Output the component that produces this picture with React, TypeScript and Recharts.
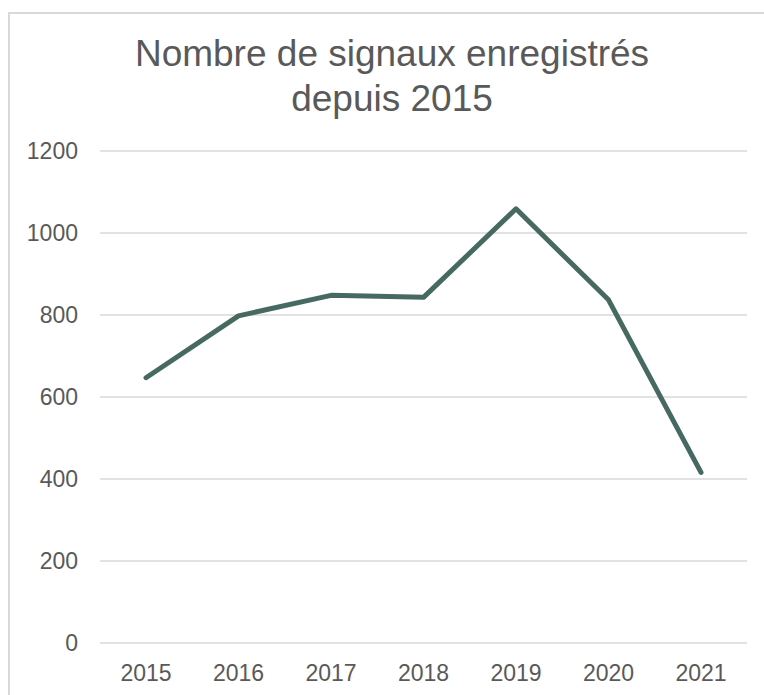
import React from 'react';
import { LineChart, Line, XAxis, YAxis, CartesianGrid } from 'recharts';

const years = ['2015', '2016', '2017', '2018', '2019', '2020', '2021'];
const signals = [647, 798, 848, 843, 1059, 837, 416];
const yTicks = [0, 200, 400, 600, 800, 1000, 1200];

const data = years.map((year, i) => ({ year, signals: signals[i] }));

const TEXT = '#595959';
const GRID = '#d9d9d9';
const LINE = '#466a61';
const FONT = '"Liberation Sans", Arial, sans-serif';

export default function App() {
  return (
    <div style={{ position: 'absolute', left: 0, top: 0, width: 764, height: 695, background: '#fff', fontFamily: FONT }}>
      <div
        style={{
          position: 'absolute',
          left: 8,
          top: 12,
          right: 0,
          bottom: 0,
          borderLeft: `2px solid ${GRID}`,
          borderTop: `2px solid ${GRID}`,
        }}
      />
      <div
        style={{
          position: 'absolute',
          left: 0,
          top: 31,
          width: 784,
          textAlign: 'center',
          fontSize: 37,
          lineHeight: '45px',
          color: TEXT,
        }}
      >
        Nombre de signaux enregistrés
        <br />
        depuis 2015
      </div>
      <div style={{ position: 'absolute', left: 0, top: 0 }}>
        <LineChart width={764} height={695} data={data} margin={{ top: 151, right: 17, bottom: 0, left: 0 }}>
          <CartesianGrid horizontal vertical={false} stroke={GRID} strokeWidth={1.5} />
          <XAxis
            dataKey="year"
            axisLine={false}
            tickLine={false}
            padding={{ left: 46, right: 46 }}
            height={52}
            tickMargin={16}
            tick={{ fill: TEXT, fontSize: 23, fontFamily: FONT }}
          />
          <YAxis
            domain={[0, 1200]}
            ticks={yTicks}
            axisLine={false}
            tickLine={false}
            width={100}
            tickMargin={16}
            tick={{ fill: TEXT, fontSize: 23, fontFamily: FONT }}
          />
          <Line
            type="linear"
            dataKey="signals"
            stroke={LINE}
            strokeWidth={5}
            strokeLinecap="round"
            strokeLinejoin="round"
            dot={false}
            activeDot={false}
            isAnimationActive={false}
          />
        </LineChart>
      </div>
    </div>
  );
}
